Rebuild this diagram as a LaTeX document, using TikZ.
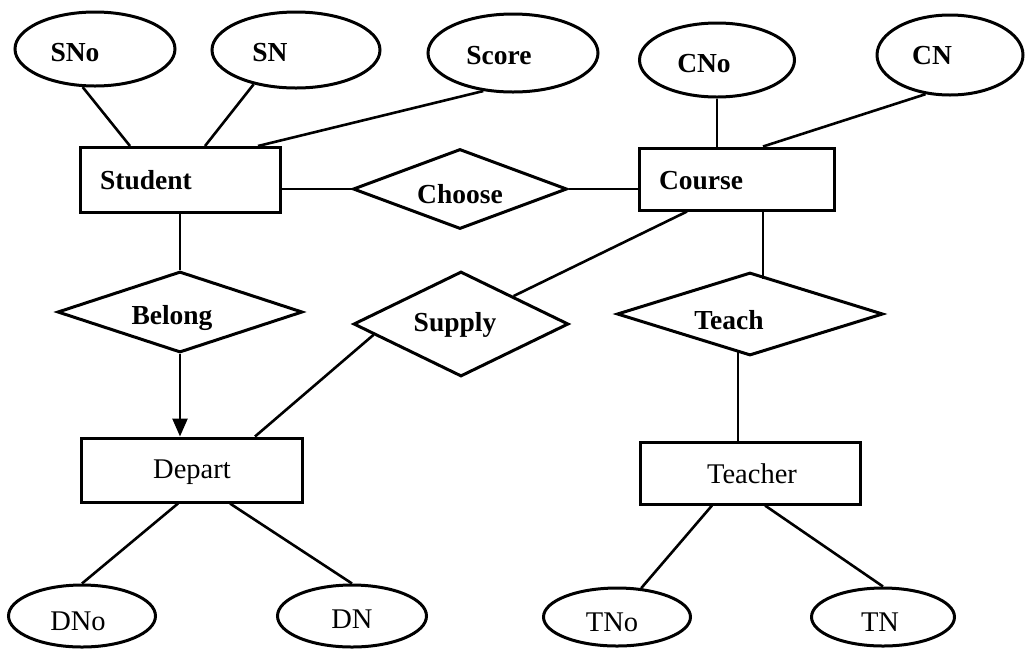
\documentclass[tikz,border=0pt]{standalone}
\usepackage{fontspec}
\setmainfont{Liberation Serif}
\usetikzlibrary{shapes.geometric,arrows.meta}
\begin{document}
\begin{tikzpicture}[x=1pt,y=-1pt,
  shp/.style={draw,inner sep=0pt,line width=3pt},
  attr/.style={shp,ellipse},
  ent/.style={shp,rectangle},
  rel/.style={shp,diamond},
  lb/.style={font=\fontsize{27.5}{30}\selectfont\bfseries,inner sep=0pt},
  lr/.style={font=\fontsize{28.5}{31}\selectfont,inner sep=0pt},
  conn/.style={line width=2.6pt}]
\useasboundingbox (0,0) rectangle (1030,649);
% attributes
\node[attr,minimum width=160,minimum height=74,label={[lb,xshift=-20pt,yshift=-4pt]center:SNo}] (sno) at (95,49) {};
\node[attr,minimum width=168,minimum height=76,label={[lb,xshift=-26pt,yshift=-3pt]center:SN}] (sn) at (296,50) {};
\node[attr,minimum width=170,minimum height=78,label={[lb,xshift=-14pt,yshift=-3pt]center:Score}] (score) at (513,53) {};
\node[attr,minimum width=155,minimum height=74,label={[lb,xshift=-13pt,yshift=-4pt]center:CNo}] (cno) at (717,60) {};
\node[attr,minimum width=146,minimum height=80,label={[lb,xshift=-18pt,yshift=-1pt]center:CN}] (cn) at (950,55) {};
\node[attr,minimum width=147,minimum height=62,label={[lr,xshift=-4pt,yshift=-5pt]center:DNo}] (dno) at (82,616) {};
\node[attr,minimum width=149,minimum height=62,label={[lr,yshift=-3pt]center:DN}] (dn) at (352,616) {};
\node[attr,minimum width=147,minimum height=58,label={[lr,xshift=-5pt,yshift=-5pt]center:TNo}] (tno) at (617,617) {};
\node[attr,minimum width=143,minimum height=58,label={[lr,xshift=-3pt,yshift=-5pt]center:TN}] (tn) at (883,617) {};
% entities
\node[ent,minimum width=200,minimum height=65,label={[lb,xshift=-34pt]center:Student}] (student) at (180,180) {};
\node[ent,minimum width=195,minimum height=62,label={[lb,xshift=-36pt,yshift=-2pt]center:Course}] (course) at (737,179) {};
\node[ent,minimum width=221,minimum height=64,label={[lr,yshift=-2pt]center:Depart}] (depart) at (192,470) {};
\node[ent,minimum width=220,minimum height=62,label={[lr,xshift=2pt,yshift=-1pt]center:Teacher}] (teacher) at (750,473) {};
% relationships
\node[rel,minimum width=214,minimum height=80,label={[lb,yshift=-5pt]center:Choose}] (choose) at (460,189) {};
\node[rel,minimum width=245,minimum height=81,label={[lb,xshift=-8pt,yshift=-6pt]center:Belong}] (belong) at (180,312) {};
\node[rel,minimum width=215,minimum height=105,label={[lb,xshift=-6pt,yshift=-1pt]center:Supply}] (supply) at (461,324) {};
\node[rel,minimum width=266,minimum height=83,label={[lb,xshift=-21pt,yshift=-6pt]center:Teach}] (teach) at (750,314) {};
% connectors
\draw[conn] (sno.-108) -- ([xshift=-50pt]student.north);
\draw[conn] (sn.-141) -- ([xshift=25pt]student.north);
\draw[conn] (score.-128) -- ([xshift=78pt]student.north);
\draw[conn] (cno.south) -- (cno.south |- course.north);
\draw[conn] (cn.-122) -- ([xshift=26pt]course.north);
\draw[conn] (choose.west) -- (choose.west -| student.east);
\draw[conn] (choose.east) -- (choose.east -| course.west);
\draw[conn] (student.south) -- (belong.north);
\draw[conn,-{Triangle[width=15pt,length=18pt]}] (belong.south) -- (belong.south |- depart.north);
\draw[conn] ([xshift=-50pt]course.south) -- (supply.28);
\draw[conn] (supply.-173) -- ([xshift=63pt]depart.north);
\draw[conn] ([xshift=26pt]course.south) -- ++(0,67);
\draw[conn] ([xshift=-12pt]teacher.north) -- ++(0,-89);
\draw[conn] ([xshift=-14pt]depart.south) -- (dno.north);
\draw[conn] ([xshift=38pt]depart.south) -- (dn.north);
\draw[conn] ([xshift=-38pt]teacher.south) -- (tno.50);
\draw[conn] ([xshift=15pt]teacher.south) -- (tn.north);
\end{tikzpicture}
\end{document}
